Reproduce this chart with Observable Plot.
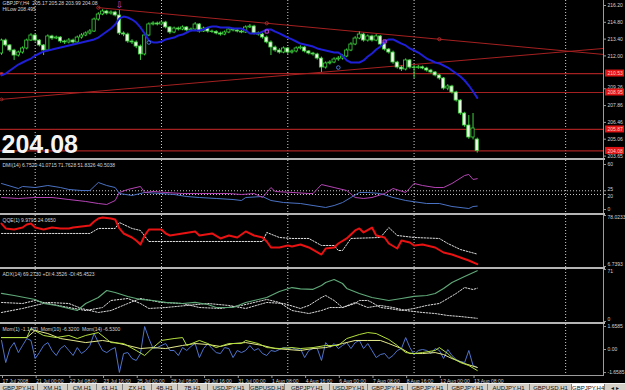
<!DOCTYPE html>
<html><head><meta charset="utf-8">
<script src="https://cdn.jsdelivr.net/npm/d3@7"></script>
<script src="https://cdn.jsdelivr.net/npm/@observablehq/plot@0.6"></script>
<style>
html,body{margin:0;padding:0;background:#000;}
#root{position:relative;width:625px;height:390px;background:#000;overflow:hidden;font-family:"Liberation Sans",Arial,sans-serif;}
.panel{position:absolute;left:0;}
.sep{position:absolute;left:0;width:605px;height:2px;background:#b4b4b4;}
#tabs{position:absolute;left:0;top:383px;width:625px;height:12px;background:#d4d0c8;border-top:1px solid #f0f0f0;white-space:nowrap;font-size:6px;color:#111;}
#tabs span{display:inline-block;box-sizing:border-box;height:12px;line-height:9px;text-align:center;border-right:1px solid #808080;vertical-align:top;overflow:hidden;}
#tabs span.act{background:#fff;}
</style></head><body><div id="root"></div>
<script>
// ---------------- DATA ----------------
const open = [212.20,213.28,212.87,212.45,212.03,212.28,212.62,213.28,213.70,213.28,
212.87,212.45,213.62,213.45,213.53,213.20,213.12,213.28,213.12,213.53,
213.70,213.87,214.03,215.03,215.45,215.70,215.53,215.62,215.37,213.87,
213.78,213.20,213.12,212.78,212.12,213.70,214.62,214.70,214.62,214.78,
214.37,213.95,214.28,214.20,214.37,214.12,214.20,214.62,214.03,214.28,
214.03,214.00,213.87,213.78,213.95,214.20,214.12,214.03,213.95,214.37,
214.45,213.87,213.78,213.53,213.12,212.70,212.45,212.28,212.62,212.28,
212.37,212.62,212.70,212.37,212.20,212.12,211.78,211.03,211.37,211.45,
211.70,211.78,211.95,212.45,212.95,213.45,213.78,213.28,213.62,213.28,
213.62,212.95,212.53,212.28,211.45,211.03,210.87,211.62,211.03,211.00,
211.05,210.95,210.78,210.62,210.37,210.12,209.28,209.45,208.95,208.28,
207.20,206.20,205.20,205.03];
const high = [213.40,213.40,212.95,212.55,212.40,212.75,213.40,213.85,213.80,213.35,
212.95,213.75,213.72,213.65,213.60,213.30,213.45,213.40,213.65,213.85,
214.00,214.20,215.15,215.60,215.85,215.80,215.75,215.72,215.78,214.00,
213.90,213.35,213.25,212.90,213.85,214.75,214.85,214.82,214.95,214.88,
214.45,214.40,214.40,214.50,214.45,214.32,214.78,214.70,214.40,214.35,
214.15,214.10,213.98,214.08,214.35,214.30,214.25,214.12,214.50,214.62,
214.55,214.00,213.88,213.65,213.25,212.82,212.60,212.75,212.70,212.50,
212.75,212.85,212.80,212.45,212.30,212.22,211.90,211.50,211.60,211.85,
211.95,212.10,212.58,213.10,213.60,214.00,213.88,213.75,213.72,213.78,
213.70,213.05,212.62,212.40,211.55,211.15,211.75,211.70,211.20,211.20,
211.15,211.05,210.88,210.70,210.45,210.20,209.60,209.55,209.05,208.35,
207.30,207.03,207.20,205.15];
const low = [212.05,212.75,212.30,211.62,211.90,212.15,212.50,213.20,213.15,212.75,
212.03,212.35,213.30,213.35,213.05,212.95,213.00,212.98,213.00,213.40,
213.60,213.75,213.95,214.90,215.35,215.40,215.40,215.25,213.70,213.60,
213.05,212.95,212.60,211.62,212.00,213.60,214.50,214.50,214.50,214.25,
213.80,213.85,214.08,214.10,214.00,214.00,214.10,213.90,213.95,213.90,
213.88,213.75,213.65,213.68,213.85,214.00,213.92,213.85,213.88,214.28,
213.75,213.65,213.40,213.00,212.03,212.30,212.15,212.18,212.12,212.15,
212.25,212.50,212.25,212.08,211.98,211.65,210.62,210.90,211.25,211.35,
211.55,211.65,211.85,212.35,212.85,213.35,213.15,213.15,213.15,213.18,
212.85,212.40,212.15,211.30,210.90,210.70,210.75,210.90,210.12,210.88,
210.85,210.65,210.50,210.25,209.98,209.15,209.10,208.82,208.15,207.05,
206.05,205.05,205.00,203.90];
const close = [213.28,212.87,212.45,212.03,212.28,212.62,213.28,213.70,213.28,212.87,
212.45,213.62,213.45,213.53,213.20,213.12,213.28,213.12,213.53,213.70,
213.87,214.03,215.03,215.45,215.70,215.53,215.62,215.37,213.87,213.78,
213.20,213.12,212.78,212.12,213.70,214.62,214.70,214.62,214.78,214.37,
213.95,214.28,214.20,214.37,214.12,214.20,214.62,214.03,214.28,214.03,
214.00,213.87,213.78,213.95,214.20,214.12,214.03,213.95,214.37,214.45,
213.87,213.78,213.53,213.12,212.70,212.45,212.28,212.62,212.28,212.37,
212.62,212.70,212.37,212.20,212.12,211.78,211.03,211.37,211.45,211.70,
211.78,211.95,212.45,212.95,213.45,213.78,213.28,213.62,213.28,213.62,
212.95,212.53,212.28,211.45,211.03,210.87,211.62,211.03,211.00,211.05,
210.95,210.78,210.62,210.37,210.12,209.28,209.45,208.95,208.28,207.20,
206.20,205.20,205.95,204.08];
const hiLow = [210.37,210.53,210.78,211.03,211.28,211.45,211.62,211.78,212.03,212.20,
212.37,212.45,212.53,212.62,212.70,212.78,212.87,212.95,213.03,213.12,
213.20,213.28,213.37,213.53,213.78,214.03,214.28,214.62,215.12,215.28,
215.20,215.03,214.78,214.37,213.87,213.28,213.12,213.12,213.20,213.37,
213.45,213.53,213.70,213.78,213.95,214.12,214.12,214.12,214.20,214.37,
214.45,214.45,214.37,214.37,214.37,214.28,214.28,214.28,214.12,213.87,
213.87,213.87,214.03,214.20,214.20,214.03,213.87,213.70,213.53,213.37,
213.20,213.03,212.95,212.87,212.78,212.62,212.53,212.45,212.37,212.28,
212.28,212.03,211.62,211.45,211.45,211.45,211.62,211.95,212.20,212.53,
212.78,213.20,213.37,213.37,213.20,213.03,212.87,212.62,212.45,212.28,
212.03,211.78,211.62,211.45,211.37,211.20,211.03,210.78,210.53,210.28,
209.95,209.53,209.03,208.50];

const priceLevels = [210.53, 208.95, 205.87, 204.08];
const priceLevelLabels = ["210.53", "208.95", "205.87", "204.08"];
const trendUpperBars = [23, 143];
const trendUpperPrices = [216.02, 212.12];
const trendLowerBars = [0, 143];
const trendLowerPrices = [208.38, 212.62];
const trendDotBars = [23, 63, 104];
const trendDotPrices = [216.02, 214.72, 213.39];
const arrowBar = 28, arrowPrice = 215.78;
const purpleMarkBars = [63, 91], purpleMarkPrices = [214.03, 213.20];
const blueMarkBars = [35, 80], blueMarkPrices = [213.12, 211.03];
const priceTicks = [216.20, 214.80, 213.40, 212.00, 209.26, 207.86, 206.46, 205.06, 203.65];
const priceTickLabels = ["216.20", "214.80", "213.40", "212.00", "209.26", "207.86", "206.46", "205.06", "203.65"];

const weekSeparators = [8, 38, 68, 98, 134];
const timeTickBars = [0, 8, 16, 24, 32, 40, 48, 56, 64, 72, 80, 88, 96, 104, 112];
const timeTickLabels = ["17 Jul 2008", "21 Jul 00:00", "22 Jul 08:00", "23 Jul 16:00", "25 Jul 00:00", "28 Jul 08:00", "29 Jul 16:00", "31 Jul 00:00", "1 Aug 08:00", "4 Aug 16:00", "6 Aug 00:00", "7 Aug 08:00", "8 Aug 16:00", "12 Aug 00:00", "13 Aug 08:00"];

const dmiBlueBars = [0,4,5,8,11,14,16,19,21,23,25,27,28,31,34,38,41,44,47,51,55,57,58,62,64,67,71,74,77,79,81,83,85,87,90,93,96,101,104,107,111,112,113];
const dmiBlueVals = [34.7,28,30.7,29.3,32,29.3,26.7,25.3,25.3,36,32,29.3,21.3,18.7,22.7,21.3,20,17.3,16,14.7,13.3,12,16,17.3,12,9.3,8,5.3,2.7,5.3,9.3,16,22.7,22.7,21.3,16,12,8,8,4,1.3,4,4.5];
const dmiMagBars = [0,4,8,12,16,20,23,25,27,28,30,33,34,36,39,43,47,50,54,57,60,62,64,65,69,73,74,76,79,82,84,86,88,91,93,96,98,100,103,105,107,110,111,112,113];
const dmiMagVals = [16,14.7,16,16,13.3,10.7,8,6.7,12,22.7,26.7,30.7,22.7,24,22.7,21.3,21.3,21.3,21.3,20,21.3,16,29.3,24,22.7,21.3,21.3,33.3,29.3,25.3,16,14.7,16,21.3,28,22.7,34.7,32,29.3,29.3,34.7,45.3,46.7,40,41.07];
const dmiLevels = [20, 25];
const dmiTicks = [60, 25, 20, 0];

const qqeBars = [0,1,3,5,6,7,8,10,12,14,16,17,19,21,22,23,24,26,27,28,29,31,32,33,34,35,38,39,40,43,46,47,50,52,54,56,58,60,62,63,64,66,68,69,71,73,76,77,79,80,82,84,85,86,88,89,91,92,94,95,97,98,100,103,105,107,109,111,113];
const qqeVals = [66.8,59.9,58.5,61.2,65.4,66.8,61.2,58.5,61.2,59.9,59.9,61.2,62.6,64.0,69.6,73.8,75.2,73.8,72.4,59.9,52.9,47.3,43.1,37.5,50.1,58.5,58.5,52.9,50.1,52.9,55.7,50.1,52.9,45.9,50.1,47.3,55.7,50.1,47.3,41.7,33.3,33.3,36.1,34.7,37.5,33.3,23.5,31.9,33.3,38.9,45.9,57.1,59.9,54.3,61.2,50.1,47.3,38.9,31.9,43.1,40.3,36.1,37.5,33.3,26.3,23.5,19.3,15.1,9.98];
const qqeSigBars = [0,21,23,27,28,31,33,35,62,63,66,69,73,76,79,80,81,83,90,92,94,98,104,106,109,113];
const qqeSigVals = [52.9,52.9,59.9,59.9,68.2,59.9,57.1,41.7,41.7,54.3,47.3,45.9,45.9,36.1,36.1,29.1,29.1,45.9,47.3,61.2,50.1,47.3,45.9,38.9,30.5,24.07];

const adxBars = [0,3,8,10,13,16,18,20,23,25,27,30,33,36,39,43,46,49,51,55,58,60,63,66,69,71,74,76,77,79,81,82,85,88,92,95,98,101,103,105,107,110,113];
const adxVals = [38.3,35.5,30.1,24.6,21.9,17.8,15.0,24.6,32.8,42.3,39.6,34.2,30.1,28.7,26.0,24.6,26.0,23.2,19.1,19.1,26.0,28.7,32.8,41.0,46.4,44.5,44.0,49.2,53.3,57.4,51.9,45.1,38.3,32.8,28.7,31.4,34.2,35.5,38.3,45.1,53.3,61.5,69.27];
const minusDiBars = [0,5,8,11,16,20,24,26,30,33,35,39,44,49,54,58,63,67,71,73,76,77,79,81,84,85,87,88,90,92,95,98,101,104,106,108,110,112,113];
const minusDiVals = [26.0,24.6,28.7,24.6,19.1,15.0,19.1,28.7,31.4,24.6,17.8,19.1,21.9,24.6,21.9,17.8,26.0,24.6,17.8,21.9,32.8,35.5,28.7,19.1,24.6,28.7,28.7,26.0,19.1,17.8,15.0,17.8,21.9,24.6,31.4,38.3,46.4,43.7,45.45];
const plusDiBars = [0,5,8,11,16,19,23,26,30,33,38,43,47,52,57,63,66,69,73,76,78,81,84,87,90,93,96,100,103,106,109,113];
const plusDiVals = [12.3,17.8,21.9,26.0,24.6,17.8,12.3,15.0,24.6,31.4,26.0,24.6,19.1,17.8,21.9,30.1,26.0,15.0,10.9,15.0,19.1,19.1,26.0,19.1,21.9,19.1,15.0,12.3,10.9,8.2,6.8,4.35];

const mom1 = [0.65,-0.94,0.07,0.50,-0.22,0.29,0.79,0.65,-0.65,-0.22,
0.29,0.50,-0.07,-0.43,0.07,0.29,-0.07,-0.43,0.14,-0.29,
-0.07,0.29,1.15,0.50,-0.07,-0.22,0,0.14,-1.65,-0.29,
-0.22,-0.65,-0.79,-0.29,1.65,0.79,0.07,0.14,0.29,0.43,
-0.07,-0.07,-0.43,0.14,-0.07,0.22,0.43,-0.58,0.07,0.43,
0.07,-0.22,-0.29,0.14,0.07,-0.58,-0.07,-0.22,-0.07,0.29,
-0.07,0.07,-0.29,-0.43,-0.07,-0.14,0,0.14,0.07,0.14,
0,0.07,-0.58,-0.07,0.07,0.07,-0.79,0.50,0.14,0.43,
0.07,0.29,0.50,0.07,0.50,0.65,0.07,0.43,-0.07,-0.58,
-0.36,-0.29,-0.65,-0.43,-0.07,0.07,0.86,0.14,-0.36,-0.07,
0,-0.07,-0.29,0.07,-0.07,-0.65,0,-0.43,-0.72,-0.86,
-0.94,-0.07,-1.15,-1.29];
const mom10Bars = [0,6,7,10,13,16,18,20,23,26,29,32,34,36,38,41,43,44,47,49,51,54,57,58,61,63,66,69,71,74,77,80,82,85,87,89,92,94,96,98,100,103,104,106,107,109,111,113];
const mom10Vals = [0.86,0.86,1.51,1.01,0.86,1.01,0.79,1.01,1.22,0.50,0.43,-0.07,-0.43,0.14,0.65,0.79,0.86,0.29,0.65,0.43,0.14,0.43,0.43,0.65,0.43,0.14,0.07,0.14,0.07,0.14,0.29,0.29,0.79,1.08,1.22,1.15,0.72,0.29,-0.22,-0.29,-0.22,-0.07,0.14,-0.29,-0.58,-0.94,-1.15,-1.51];
const mom14Bars = [0,6,8,11,14,17,20,24,27,30,33,36,39,43,46,49,52,55,58,62,65,68,71,74,77,81,84,87,90,92,95,97,100,103,105,107,110,113];
const mom14Vals = [0.86,0.86,1.37,1.15,0.79,0.65,0.50,0.65,0.50,0.29,0.07,0.14,0.07,0.29,0.43,0.36,0.22,0.43,0.50,0.29,0.07,0,-0.07,0.07,0.14,0.43,0.65,0.65,0.65,0.43,0.07,-0.29,-0.29,-0.22,-0.36,-0.65,-1.01,-1.29];

const tabNames = ["GBPJPY,H1","XM,H1","CM,H1","61,H1","ZX,H1","4B,H1","7B,H1","USDJPY,H1","GBPUSD,H1","GBPJPY,H1","USDJPY,H1","GBPJPY,H1","GBPJPY,H1","GBPJPY,H1","AUDJPY,H1","GBPUSD,H1","GBPJPY,H4"];
const tabWidths = [38,30,29,26,29,26,30,42,35,45,38,40,40,40,42,42,33];

// ---------------- CHART ----------------
const FONT = "'Liberation Sans', Arial, sans-serif";
const XD = [-0.24, 142.99];
const XMAX = XD[1];
const TXT = "#d4d4d4";
const AXIS = "#9c9c9c";
const SEPC = "#d0d0d0";
const zip = (xs, ys) => xs.map((x, k) => ({x, y: ys[k]}));

function rightTicks(vals) {
  return Plot.axisY(vals, {anchor: "right", tickSize: 2, tickFormat: () => "", stroke: AXIS, label: null});
}
function rightText(items, anchor) {
  return Plot.text(items, {x: () => XMAX, y: d => d.v, text: d => d.t, textAnchor: "start", dx: 4,
    lineAnchor: anchor, fill: TXT, fontSize: 5});
}
function panel(h, ydom, marks, mb = 0) {
  return Plot.plot({
    width: 625, height: h, marginLeft: 0, marginRight: 22, marginTop: 0, marginBottom: mb,
    x: {domain: XD, axis: null, label: null}, y: {domain: ydom, axis: null, label: null},
    style: {background: "transparent", color: TXT, fontFamily: FONT, fontSize: "5px", overflow: "visible"},
    marks
  });
}
const seps = () => Plot.ruleX(weekSeparators, {stroke: SEPC, strokeDasharray: "1,2", strokeWidth: 1});
const axisLine = () => Plot.ruleX([XMAX], {stroke: AXIS});
const header = (s) => Plot.text([s], {frameAnchor: "top-left", dx: 2, dy: 3, lineAnchor: "top", fill: TXT, fontSize: 5});

const candles = close.map((c, i) => ({i, o: open[i], h: high[i], l: low[i], c}));
const GREEN = "#3fd23f";
const tickItems = priceTicks.map((v, k) => ({v, t: priceTickLabels[k]}));

const main = panel(158, [203.45, 216.6167], [
  seps(),
  Plot.ruleY(priceLevels, {stroke: "#a52020", strokeWidth: 1.2}),
  Plot.line(zip(trendUpperBars, trendUpperPrices), {x: "x", y: "y", stroke: "#a52020", strokeWidth: 1}),
  Plot.line(zip(trendLowerBars, trendLowerPrices), {x: "x", y: "y", stroke: "#a52020", strokeWidth: 1}),
  Plot.dot(zip(trendDotBars, trendDotPrices), {x: "x", y: "y", r: 1.6, stroke: "#c03030", strokeWidth: 0.8}),
  Plot.dot([{x: 0, y: priceLevels[0]}], {x: "x", y: "y", r: 1.4, symbol: "square", fill: "#e03030"}),
  Plot.dot([{x: 0, y: trendLowerPrices[0]}], {x: "x", y: "y", r: 1.4, stroke: "#c03030", strokeWidth: 0.8}),
  Plot.ruleX(candles, {x: "i", y1: "l", y2: "h", stroke: GREEN, strokeWidth: 1}),
  Plot.rect(candles, {x1: d => d.i - 0.38, x2: d => d.i + 0.38, y1: "o", y2: "c",
    fill: d => d.c >= d.o ? "#000" : "#eef8e6", stroke: GREEN, strokeWidth: 0.8}),
  Plot.line(hiLow, {x: (d, i) => i, y: d => d, stroke: "#1f1fd8", strokeWidth: 2}),
  Plot.text([{x: arrowBar, y: arrowPrice}], {x: "x", y: "y", text: () => "⇩", dy: -5, fill: "#c844d8", fontSize: 9, fontFamily: "DejaVu Sans"}),
  Plot.dot(zip(purpleMarkBars, purpleMarkPrices), {x: "x", y: "y", r: 1.8, symbol: "square", stroke: "#c844d8", strokeWidth: 1}),
  Plot.dot(zip(blueMarkBars, blueMarkPrices), {x: "x", y: "y", r: 1.8, stroke: "#4a7ae0", strokeWidth: 1}),
  axisLine(),
  rightTicks(priceTicks),
  rightText(tickItems.filter(d => d.t !== "209.26"), "middle"),
  rightText(tickItems.filter(d => d.t === "209.26"), "bottom"),
  Plot.rect(priceLevels, {x1: () => XMAX, x2: () => XMAX, y1: d => d, y2: d => d,
    insetLeft: 2, insetRight: -21, insetTop: -3.5, insetBottom: -3.5, fill: "#e01414"}),
  Plot.text(priceLevels.map((v, k) => ({v, t: priceLevelLabels[k]})), {x: () => XMAX, y: d => d.v, text: d => d.t,
    textAnchor: "start", dx: 4, fill: "#ffc8c8", fontSize: 5}),
  Plot.text(["GBPJPY,H4  205.17 205.28 203.99 204.08"], {frameAnchor: "top-left", dx: 2, dy: 1, lineAnchor: "top", fill: TXT, fontSize: 5}),
  Plot.text(["HiLow 208.495"], {frameAnchor: "top-left", dx: 2, dy: 7, lineAnchor: "top", fill: TXT, fontSize: 5}),
  Plot.text(["204.08"], {frameAnchor: "bottom-left", dx: 1, dy: -6, lineAnchor: "bottom", fontSize: 25, fontWeight: "bold", fill: "#f4f4f4", fontFamily: FONT})
]);

const dmi = panel(53, [-5.33, 65.33], [
  seps(),
  Plot.ruleY(dmiLevels, {stroke: "#c8c8c8", strokeDasharray: "1,2"}),
  Plot.line(zip(dmiBlueBars, dmiBlueVals), {x: "x", y: "y", stroke: "#4a72c4", strokeWidth: 1}),
  Plot.line(zip(dmiMagBars, dmiMagVals), {x: "x", y: "y", stroke: "#b544b5", strokeWidth: 1}),
  axisLine(), rightTicks(dmiTicks),
  rightText([{v: 60, t: "60"}, {v: 0, t: "0"}], "middle"),
  rightText([{v: 25, t: "25"}], "bottom"),
  rightText([{v: 20, t: "20"}], "top"),
  header("DMI(14) 6.7520 41.0715 71.7628 51.8326 40.5038")
]);

const qqe = panel(52, [5.34, 78.0233], [
  seps(),
  Plot.line(zip(qqeSigBars, qqeSigVals), {x: "x", y: "y", stroke: "#e0e0e0", strokeDasharray: "1.5,1.5", strokeWidth: 1}),
  Plot.line(zip(qqeBars, qqeVals), {x: "x", y: "y", stroke: "#e81212", strokeWidth: 2}),
  axisLine(), rightTicks([78.0233, 6.7393]),
  rightText([{v: 78.0233, t: "78.0233"}], "top"),
  rightText([{v: 6.7393, t: "6.7393"}], "bottom"),
  header("QQE(1) 9.9795 24.0650")
]);

const adx = panel(53, [-1.37, 71.04], [
  seps(),
  Plot.line(zip(minusDiBars, minusDiVals), {x: "x", y: "y", stroke: "#dcdcdc", strokeDasharray: "1.5,1.5", strokeWidth: 1}),
  Plot.line(zip(plusDiBars, plusDiVals), {x: "x", y: "y", stroke: "#dcdcdc", strokeDasharray: "1.5,1.5", strokeWidth: 1}),
  Plot.line(zip(adxBars, adxVals), {x: "x", y: "y", stroke: "#5fa878", strokeWidth: 1.2}),
  axisLine(), rightTicks([71, 0]),
  rightText([{v: 71, t: "71"}], "top"),
  rightText([{v: 0, t: "0"}], "bottom"),
  header("ADX(14) 69.2730 +DI:4.3526 -DI:45.4523")
]);

const mom = panel(59, [-1.87, 1.80], [
  seps(),
  Plot.line(mom1, {x: (d, i) => i, y: d => d, stroke: "#4f74cc", strokeWidth: 1}),
  Plot.line(zip(mom14Bars, mom14Vals), {x: "x", y: "y", stroke: "#e6ea8c", strokeWidth: 1}),
  Plot.line(zip(mom10Bars, mom10Vals), {x: "x", y: "y", stroke: "#b4e03c", strokeWidth: 1}),
  axisLine(), rightTicks([1.6585, 0, -1.6585]),
  rightText([{v: 1.6585, t: "1.6585"}, {v: 0, t: "0.00"}, {v: -1.6585, t: "-1.6585"}], "middle"),
  Plot.frame({anchor: "bottom", stroke: AXIS}),
  Plot.axisX(timeTickBars, {tickSize: 3, tickPadding: 1, textAnchor: "start", dx: 1,
    tickFormat: (d) => timeTickLabels[timeTickBars.indexOf(d)], stroke: AXIS, fill: TXT, fontSize: 5, label: null}),
  header("Mom(1) -1.1400  Mom(10) -6.3200  Mom(14) -6.5300")
], 8);

const root = document.getElementById("root");
const place = (node, top) => { const d = document.createElement("div"); d.className = "panel"; d.style.top = top + "px"; d.appendChild(node); root.appendChild(d); };
place(main, 0);
place(dmi, 160);
place(qqe, 215);
place(adx, 269);
place(mom, 324);
for (const t of [158, 213, 267, 322]) { const s = document.createElement("div"); s.className = "sep"; s.style.top = t + "px"; root.appendChild(s); }
const tabs = document.createElement("div"); tabs.id = "tabs";
tabNames.forEach((n, k) => { const s = document.createElement("span"); s.textContent = n; s.style.width = tabWidths[k] + "px"; if (k === tabNames.length - 1) s.className = "act"; tabs.appendChild(s); });
const arr = document.createElement("span"); arr.textContent = "◂ ▸"; arr.style.width = "20px"; arr.style.borderRight = "none"; tabs.appendChild(arr);
root.appendChild(tabs);
</script></body></html>
